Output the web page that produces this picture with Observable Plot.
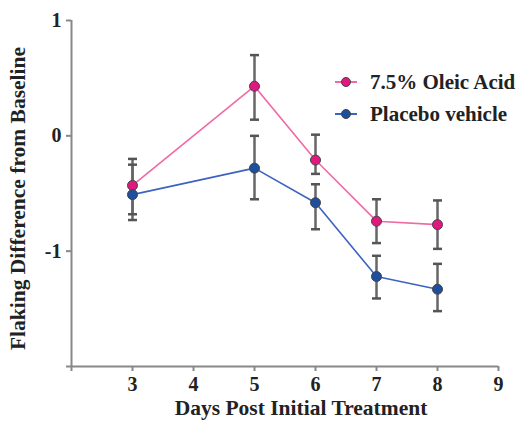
<!DOCTYPE html>
<html>
<head>
<meta charset="utf-8">
<script src="https://cdn.jsdelivr.net/npm/d3@7"></script>
<script src="https://cdn.jsdelivr.net/npm/@observablehq/plot@0.6"></script>
<style>
  html, body { margin: 0; padding: 0; background: #fff; }
  #wrap { position: relative; width: 527px; height: 425px; }
  .legend { position: absolute; left: 334px; top: 66px; font-family: "Liberation Serif", serif; font-weight: bold; font-size: 21px; color: #222; }
  .legend .row { display: flex; align-items: center; height: 32px; }
  .legend svg { margin-right: 12px; }
</style>
</head>
<body>
<div id="wrap"></div>
<script>
const days = [3, 5, 6, 7, 8];
const oleicMean = [-0.43, 0.43, -0.21, -0.74, -0.77];
const oleicLo   = [-0.68, 0.14, -0.33, -0.93, -0.98];
const oleicHi   = [-0.20, 0.70, 0.01, -0.55, -0.56];
const placeboMean = [-0.51, -0.28, -0.58, -1.22, -1.33];
const placeboLo   = [-0.73, -0.55, -0.81, -1.41, -1.52];
const placeboHi   = [-0.25, 0.00, -0.42, -1.04, -1.11];
const seriesNames = ["7.5% Oleic Acid", "Placebo vehicle"];
const seriesLine = ["#f06aa6", "#3d62c2"];
const seriesFill = ["#e0187f", "#1d4f9e"];
const xTicks = [3, 4, 5, 6, 7, 8, 9];
const yTicks = [-1, 0, 1];

const rows = [];
[[oleicMean, oleicLo, oleicHi], [placeboMean, placeboLo, placeboHi]].forEach(([m, lo, hi], s) => {
  days.forEach((d, i) => rows.push({series: seriesNames[s], day: d, mean: m[i], lo: lo[i], hi: hi[i]}));
});

const capSymbol = {
  draw(ctx, size) {
    const w = Math.sqrt(size / Math.PI);
    ctx.moveTo(-w, 0);
    ctx.lineTo(w, 0);
  }
};

const chart = Plot.plot({
  width: 527,
  height: 425,
  marginLeft: 71,
  marginRight: 29,
  marginTop: 20,
  marginBottom: 59,
  style: {fontFamily: "Liberation Serif, serif", fontWeight: "bold", fontSize: "20px", color: "#222", background: "#fff"},
  x: {domain: [2, 9]},
  y: {domain: [-2, 1]},
  marks: [
    Plot.ruleX([2], {stroke: "#888", strokeWidth: 2}),
    Plot.ruleY([-2], {stroke: "#888", strokeWidth: 2}),
    Plot.axisX([2], {tickSize: 5, stroke: "#888", strokeWidth: 2, tickFormat: () => "", label: null}),
    Plot.axisX(xTicks, {tickSize: 5, tickPadding: 5, stroke: "#888", strokeWidth: 2, tickFormat: d => String(d), label: null, fill: "#222", fontSize: 20}),
    Plot.axisY([-2], {tickSize: 5, stroke: "#888", strokeWidth: 2, tickFormat: () => "", label: null}),
    Plot.axisY(yTicks, {tickSize: 5, tickPadding: 5, stroke: "#888", strokeWidth: 2, tickFormat: d => String(d), label: null, fill: "#222", fontSize: 20}),
    Plot.text(["Days Post Initial Treatment"], {frameAnchor: "bottom", dy: 48, dx: 16, fontSize: 21.5, fill: "#222"}),
    Plot.text(["Flaking Difference from Baseline"], {frameAnchor: "left", textAnchor: "middle", dx: -53, dy: 5, rotate: -90, fontSize: 21.5, fill: "#222"}),
    Plot.line(rows, {x: "day", y: "mean", z: "series", stroke: d => seriesLine[seriesNames.indexOf(d.series)], strokeWidth: 1.6}),
    Plot.ruleX(rows, {x: "day", y1: "lo", y2: "hi", stroke: "#666", strokeWidth: 2.5}),
    Plot.dot(rows, {x: "day", y: "lo", symbol: capSymbol, r: 4.5, stroke: "#555", strokeWidth: 2.5}),
    Plot.dot(rows, {x: "day", y: "hi", symbol: capSymbol, r: 4.5, stroke: "#555", strokeWidth: 2.5}),
    Plot.dot(rows, {x: "day", y: "mean", r: 5, fill: d => seriesFill[seriesNames.indexOf(d.series)], stroke: "#444", strokeWidth: 1})
  ]
});

const wrap = document.getElementById("wrap");
wrap.appendChild(chart);

const legend = document.createElement("div");
legend.className = "legend";
seriesNames.forEach((name, i) => {
  const row = document.createElement("div");
  row.className = "row";
  row.innerHTML = `<svg width="24" height="12"><line x1="1" x2="23" y1="6" y2="6" stroke="${seriesLine[i]}" stroke-width="2"/><circle cx="12" cy="6" r="4.5" fill="${seriesFill[i]}" stroke="#444" stroke-width="1"/></svg><span>${name}</span>`;
  legend.appendChild(row);
});
wrap.appendChild(legend);
</script>
</body>
</html>
